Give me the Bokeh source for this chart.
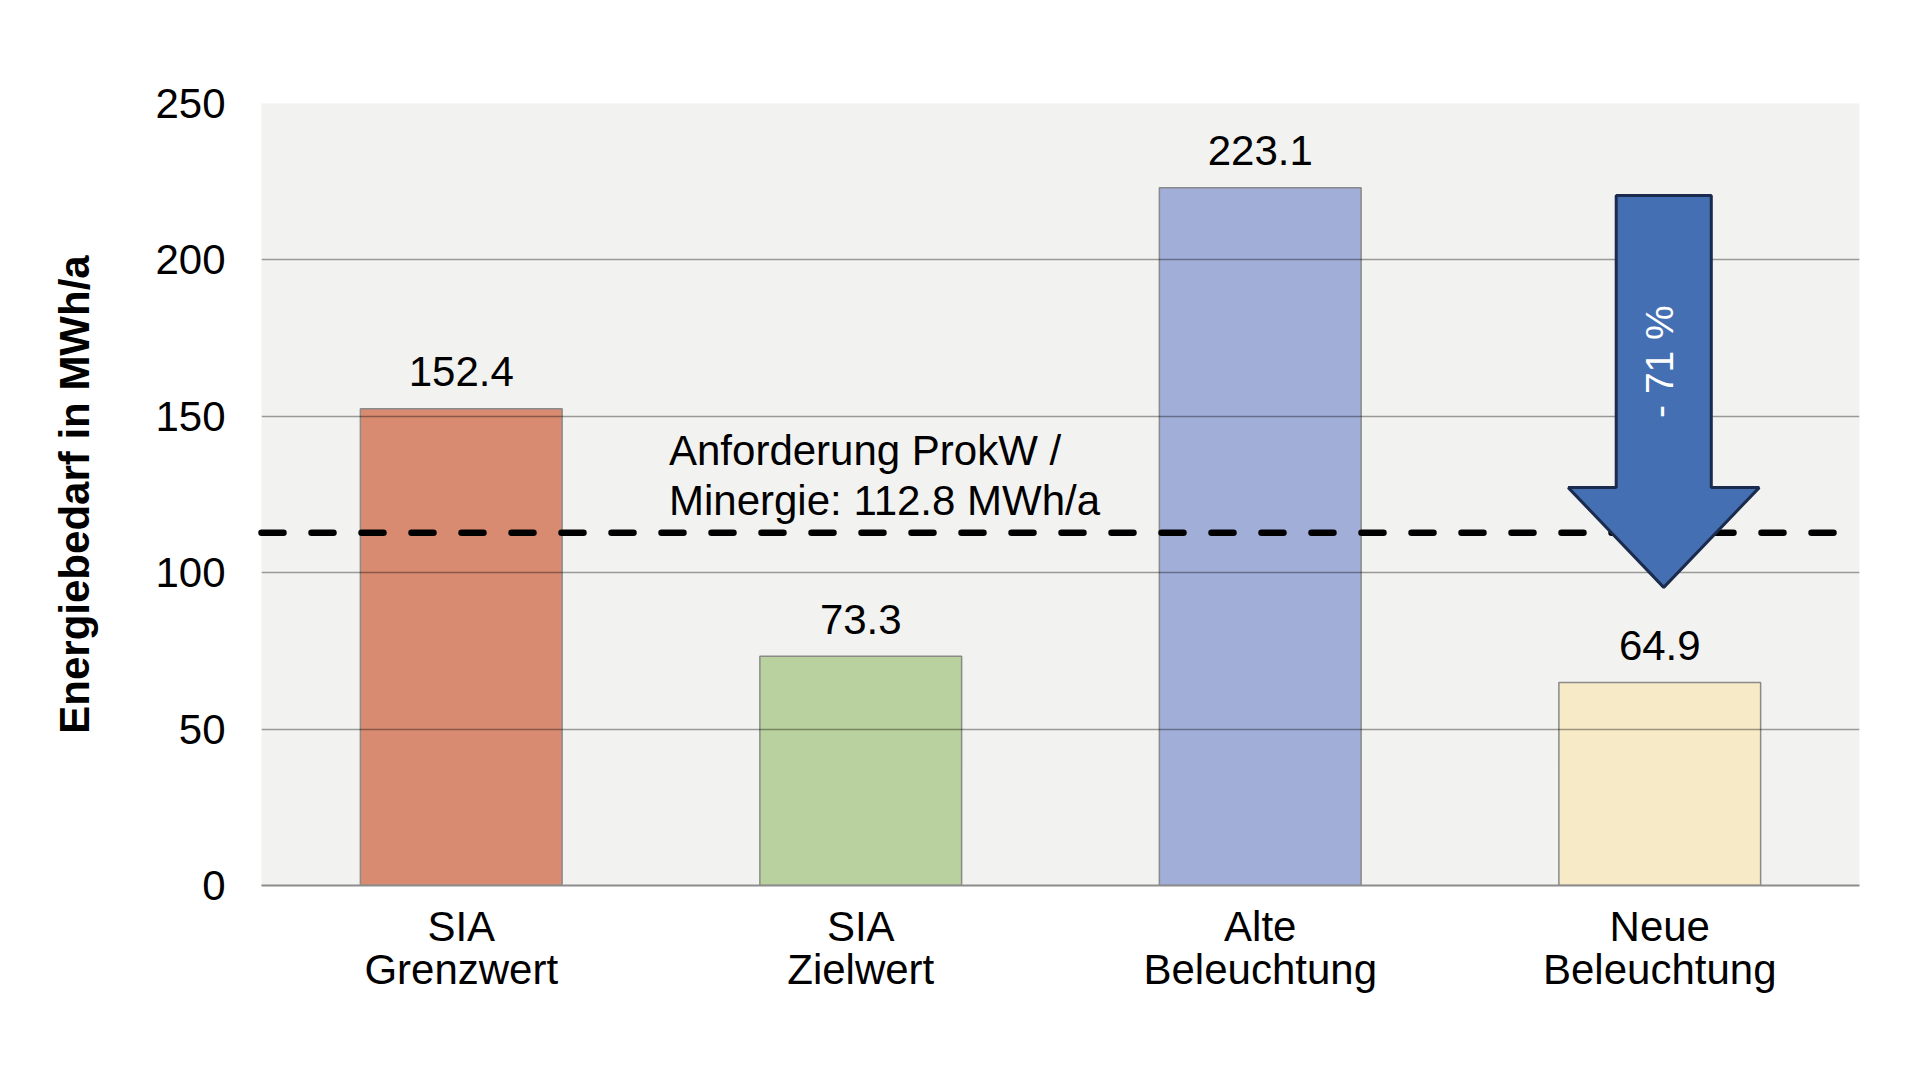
import math
from bokeh.plotting import figure
from bokeh.models import Range1d, FixedTicker, ColumnDataSource
from bokeh.core.properties import value
from bokeh.embed import file_html
from bokeh.resources import INLINE

# ---- data ----
categories = ["SIA\nGrenzwert", "SIA\nZielwert", "Alte\nBeleuchtung", "Neue\nBeleuchtung"]
values = [152.4, 73.3, 223.1, 64.9]
value_labels = ["152.4", "73.3", "223.1", "64.9"]
bar_colors = ["#D98B71", "#B9D19E", "#A1AED8", "#F7EAC6"]
y_ticks = [0, 50, 100, 150, 200, 250]
requirement = 112.8
requirement_lines = ["Anforderung ProkW /", "Minergie: 112.8 MWh/a"]
reduction_label = "- 71 %"
y_title = "Energiebedarf in MWh/a"

FONT = "Liberation Sans"
FS = "42px"

W, H = 1900, 1045
p = figure(width=W, height=H, output_backend="svg", toolbar_location=None,
           x_range=Range1d(0, len(categories)), y_range=Range1d(0, 250),
           min_border_left=261, min_border_right=41, min_border_top=103, min_border_bottom=160)
p.background_fill_color = "#F2F2F0"
p.border_fill_color = "white"
p.outline_line_color = None

# bars
xs = [i + 0.5 for i in range(len(categories))]
src = ColumnDataSource(dict(x=xs, top=values, color=bar_colors, label=value_labels))
p.vbar(x="x", top="top", width=0.505, bottom=0, source=src, fill_color="color",
       line_color="#8A8A8A", line_width=1.5, level="underlay")

# value labels
p.text(x="x", y="top", text="label", source=src, text_align="center", text_baseline="alphabetic",
       y_offset=-37, text_font=value(FONT), text_font_size=FS, text_color="black")

# requirement line
p.line(x=[0, len(categories)], y=[requirement, requirement], line_color="black", line_width=6.5,
       line_dash="22 28", line_cap="round", level="annotation")
p.text(x=[1.02, 1.02], y=[134.3, 118.3], text=requirement_lines, text_align="left",
       text_baseline="alphabetic", y_offset=-15, text_font=value(FONT), text_font_size=FS,
       text_color="black", level="annotation")

# arrow
cx = 3.51
sw, hw = 0.119, 0.239
y_top, y_base, y_tip = 220.6, 127.2, 95.3
ax = [cx - sw, cx + sw, cx + sw, cx + hw, cx, cx - hw, cx - sw]
ay = [y_top, y_top, y_base, y_base, y_tip, y_base, y_base]
p.patch(ax, ay, fill_color="#4470B3", line_color="#1B2B4D", line_width=3, level="annotation")
p.text(x=[cx - 0.01], y=[167.5], text=[reduction_label], angle=math.pi / 2, text_align="center",
       text_baseline="middle", text_font=value(FONT), text_font_size="39px", text_color="white",
       level="annotation")

# axes
p.xaxis.ticker = FixedTicker(ticks=xs)
p.xaxis.major_label_overrides = {x: c for x, c in zip(xs, categories)}
p.xaxis.major_label_text_font = FONT
p.xaxis.major_label_text_font_size = FS
p.xaxis.major_label_text_color = "black"
p.xaxis.major_label_text_line_height = 0.92
p.xaxis.major_label_standoff = 11
p.xaxis.major_tick_line_color = None
p.xaxis.minor_tick_line_color = None
p.xaxis.axis_line_color = "#8C8C8C"
p.xaxis.axis_line_width = 2

p.yaxis.ticker = FixedTicker(ticks=y_ticks)
p.yaxis.major_label_text_font = FONT
p.yaxis.major_label_text_font_size = FS
p.yaxis.major_label_text_color = "black"
p.yaxis.major_label_standoff = 30
p.yaxis.major_tick_line_color = None
p.yaxis.minor_tick_line_color = None
p.yaxis.axis_line_color = None
p.yaxis.axis_label = y_title
p.yaxis.axis_label_text_font = FONT
p.yaxis.axis_label_text_font_style = "bold"
p.yaxis.axis_label_text_font_size = FS
p.yaxis.axis_label_text_color = "black"
p.yaxis.axis_label_standoff = 54

p.xgrid.grid_line_color = None
p.ygrid.ticker = FixedTicker(ticks=y_ticks)
p.ygrid.grid_line_color = "black"
p.ygrid.grid_line_alpha = 0.37
p.ygrid.grid_line_width = 1.5
p.ygrid.level = "glyph"

open("out.html", "w").write(file_html(p, INLINE))
